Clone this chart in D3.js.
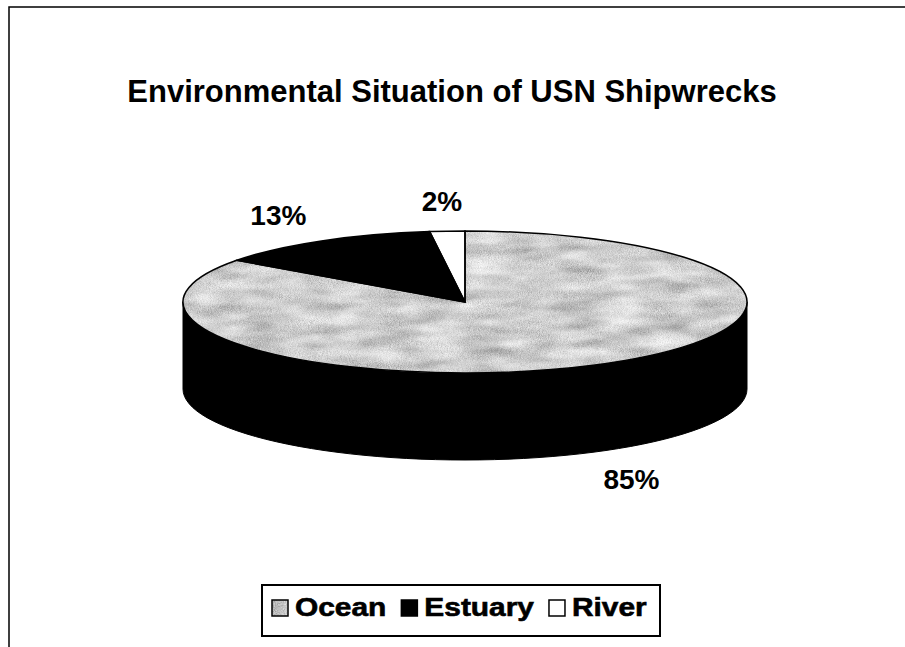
<!DOCTYPE html>
<meta charset="utf-8">
<script src="https://d3js.org/d3.v7.min.js"></script>
<style>
body { margin: 0; background: #fff; }
text { font-family: "Liberation Sans", Arial, sans-serif; font-weight: bold; fill: #000; }
.title { font-size: 31px; }
.label { font-size: 28px; }
.legend text { font-size: 26px; stroke: #000; stroke-width: 0.6px; }
</style>
<body>
<script>

// chart data
var categories = ["Ocean", "Estuary", "River"];
var values = [85, 13, 2];
var pctLabels = ["85%", "13%", "2%"];
var titleText = "Environmental Situation of USN Shipwrecks";

var width = 905, height = 647;
var cx = 465, cy = 302, rx = 282, ry = 71, depth = 87;

var svg = d3.select("body").append("svg")
  .attr("width", width)
  .attr("height", height);

var defs = svg.append("defs");

// mottled grey texture for the ocean slice
var f = defs.append("filter").attr("id", "tex")
  .attr("x", 0).attr("y", 0).attr("width", 1).attr("height", 1)
  .attr("filterUnits", "objectBoundingBox");
f.append("feTurbulence").attr("type", "fractalNoise")
  .attr("baseFrequency", 0.022).attr("numOctaves", 2).attr("seed", 4).attr("result", "big");
f.append("feTurbulence").attr("type", "fractalNoise")
  .attr("baseFrequency", 0.9).attr("numOctaves", 1).attr("seed", 9).attr("result", "fine");
f.append("feComposite").attr("in", "big").attr("in2", "fine")
  .attr("operator", "arithmetic").attr("k1", 0).attr("k2", 0.7).attr("k3", 0.55).attr("k4", 0)
  .attr("result", "mix");
f.append("feColorMatrix").attr("in", "mix").attr("type", "matrix")
  .attr("values", "1.15 0 0 0 0.04  1.15 0 0 0 0.04  1.15 0 0 0 0.04  0 0 0 0 1")
  .attr("result", "grey");
f.append("feComposite").attr("in", "grey").attr("in2", "SourceGraphic").attr("operator", "in");

var fills = ["#b4b4b4", "#000", "#fff"];

// outer frame
svg.append("rect")
  .attr("x", 9).attr("y", 7)
  .attr("width", 1000).attr("height", 1000)
  .attr("fill", "none").attr("stroke", "#000").attr("stroke-width", 1.5);

svg.append("text")
  .attr("class", "title")
  .attr("x", 452).attr("y", 102)
  .attr("text-anchor", "middle")
  .text(titleText);

var pie = d3.pie().sort(null).value(function(d) { return d; });
var arcs = pie(values);

function pt(a, dy) {
  return [cx + rx * Math.sin(a), cy - ry * Math.cos(a) + (dy || 0)];
}

// side walls for the front half of each slice
function sidePath(a0, a1) {
  var s = Math.max(a0, Math.PI / 2), e = Math.min(a1, 3 * Math.PI / 2);
  if (e <= s) return null;
  var n = 60, top = [], bot = [];
  for (var i = 0; i <= n; i++) {
    var a = s + (e - s) * i / n;
    top.push(pt(a, 0));
    bot.push(pt(a, depth));
  }
  return d3.line()(top.concat(bot.reverse())) + "Z";
}

var pieG = svg.append("g");

pieG.selectAll(".side")
  .data(arcs)
  .enter().append("path")
  .attr("class", "side")
  .attr("d", function(d) { return sidePath(d.startAngle, d.endAngle); })
  .attr("fill", "#000")
  .attr("stroke", "#000")
  .attr("stroke-width", 1);

var arc = d3.arc().innerRadius(0).outerRadius(rx);

var topG = pieG.append("g")
  .attr("transform", "translate(" + cx + "," + cy + ") scale(1," + (ry / rx) + ")");

topG.selectAll(".top")
  .data(arcs)
  .enter().append("path")
  .attr("class", "top")
  .attr("d", arc)
  .attr("fill", function(d, i) { return fills[i]; })
  .attr("filter", function(d, i) { return i == 0 ? "url(#tex)" : null; });

topG.selectAll(".edge")
  .data(arcs)
  .enter().append("path")
  .attr("class", "edge")
  .attr("d", arc)
  .attr("fill", "none")
  .attr("stroke", "#000")
  .attr("stroke-width", 1.5)
  .attr("vector-effect", "non-scaling-stroke");

// percentage labels
svg.selectAll(".label")
  .data(arcs)
  .enter().append("text")
  .attr("class", "label")
  .attr("text-anchor", "middle")
  .attr("dy", "0.36em")
  .attr("x", function(d) {
    var m = (d.startAngle + d.endAngle) / 2;
    return cx + rx * 1.3 * Math.sin(m);
  })
  .attr("y", function(d) {
    var m = (d.startAngle + d.endAngle) / 2;
    var y = cy - ry * 1.42 * Math.cos(m);
    return Math.cos(m) < 0 ? y + depth : y;
  })
  .text(function(d, i) { return pctLabels[i]; });

// legend
var lg = svg.append("g").attr("class", "legend");
lg.append("rect")
  .attr("x", 262).attr("y", 585)
  .attr("width", 398).attr("height", 51)
  .attr("fill", "#fff").attr("stroke", "#000").attr("stroke-width", 2);

var x = 272, sw = 16, sy = 600, base = 616, stretch = 1.15;
var items = lg.selectAll(".item")
  .data(categories)
  .enter().append("g")
  .attr("class", "item");

items.each(function(d, i) {
  var g = d3.select(this);
  g.append("rect")
    .attr("x", x).attr("y", sy)
    .attr("width", sw).attr("height", sw)
    .attr("fill", fills[i])
    .attr("filter", i == 0 ? "url(#tex)" : null);
  g.append("rect")
    .attr("x", x).attr("y", sy)
    .attr("width", sw).attr("height", sw)
    .attr("fill", "none").attr("stroke", "#000").attr("stroke-width", 1.5);
  var t = g.append("text")
    .attr("transform", "translate(" + (x + sw + 7) + "," + base + ") scale(" + stretch + ",1)")
    .text(d);
  x += sw + 7 + t.node().getComputedTextLength() * stretch + 15;
});

</script>
</body>
